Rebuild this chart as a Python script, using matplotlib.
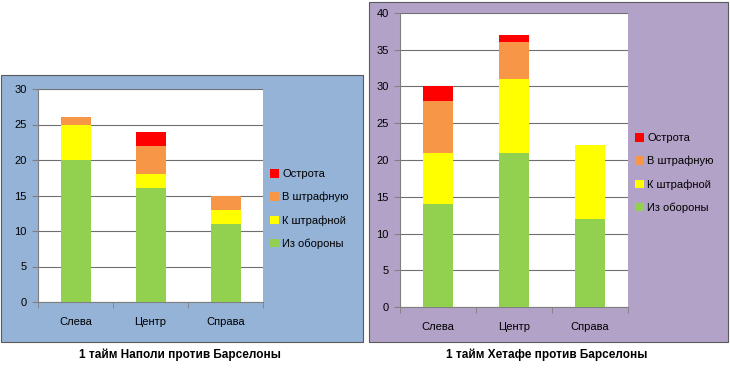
import matplotlib.pyplot as plt
from matplotlib.patches import Rectangle
from matplotlib.ticker import FixedLocator

plt.rcParams['font.family'] = ['Liberation Sans', 'DejaVu Sans']

# data
categories = ['Слева', 'Центр', 'Справа']
series_names = ['Из обороны', 'К штрафной', 'В штрафную', 'Острота']
colors = ['#92D050', '#FFFF00', '#F79646', '#FF0000']

napoli = {
    'Из обороны': [20, 16, 11],
    'К штрафной': [5, 2, 2],
    'В штрафную': [1, 4, 2],
    'Острота': [0, 2, 0],
}
getafe = {
    'Из обороны': [14, 21, 12],
    'К штрафной': [7, 10, 10],
    'В штрафную': [7, 5, 0],
    'Острота': [2, 1, 0],
}
titles = ['1 тайм Наполи против Барселоны', '1 тайм Хетафе против Барселоны']

W, H = 730, 370
fig = plt.figure(figsize=(W / 100, H / 100), dpi=100)
fig.patch.set_facecolor('white')


def px(x0, y0, x1, y1):
    # pixel box (top-left origin) -> figure fraction rect
    return [x0 / W, 1 - y1 / H, (x1 - x0) / W, (y1 - y0) / H]


def panel(bg_box, ax_box, bg, data, ymax, leg_xy, title, title_x):
    r = px(*bg_box)
    fig.patches.append(Rectangle((r[0], r[1]), r[2], r[3], transform=fig.transFigure,
                                 facecolor=bg, edgecolor='#5a5a5a', linewidth=0.8, zorder=-5))
    ax = fig.add_axes(px(*ax_box))
    ax.set_zorder(2)
    ax.set_facecolor('white')
    xs = range(len(categories))
    bottom = [0] * len(categories)
    handles = []
    for name, c in zip(series_names, colors):
        vals = data[name]
        b = ax.bar(xs, vals, width=0.4, bottom=bottom, color=c, label=name, zorder=3)
        handles.append(b)
        bottom = [a + v for a, v in zip(bottom, vals)]
    ax.set_xlim(-0.5, 2.5)
    ax.set_ylim(0, ymax)
    ax.set_yticks(range(0, ymax + 1, 5))
    ax.yaxis.grid(True, color='#6f6f6f', linewidth=0.8, zorder=1)
    ax.set_axisbelow(True)
    ax.set_xticks(list(xs))
    ax.set_xticklabels(categories)
    ax.xaxis.set_minor_locator(FixedLocator([-0.5, 0.5, 1.5, 2.5]))
    ax.tick_params(axis='x', which='major', length=0, pad=11, labelsize=8)
    ax.tick_params(axis='x', which='minor', length=4, direction='out', color='#7f7f7f')
    ax.tick_params(axis='y', length=4, direction='out', color='#7f7f7f', pad=4, labelsize=8)
    for s in ['top', 'right']:
        ax.spines[s].set_visible(False)
    for s in ['left', 'bottom']:
        ax.spines[s].set_color('#7f7f7f')
    fig.legend(handles[::-1], series_names[::-1], loc='upper left',
               bbox_to_anchor=(leg_xy[0] / W, 1 - leg_xy[1] / H), frameon=False,
               fontsize=8, handlelength=0.8, handleheight=0.8, handletextpad=0.3,
               labelspacing=1.15, borderpad=0, borderaxespad=0)
    fig.text(title_x / W, 1 - 355 / H, title, ha='center', va='center',
             fontsize=8.5, fontweight='bold')


panel((1, 75, 363, 342), (38, 89, 263, 302), '#95B3D7', napoli, 30, (270, 169), titles[0], 180)
panel((369, 2, 728, 342), (400, 13, 628, 307), '#B3A2C7', getafe, 40, (635, 133), titles[1], 547)

fig.savefig('out.png', dpi=100)
